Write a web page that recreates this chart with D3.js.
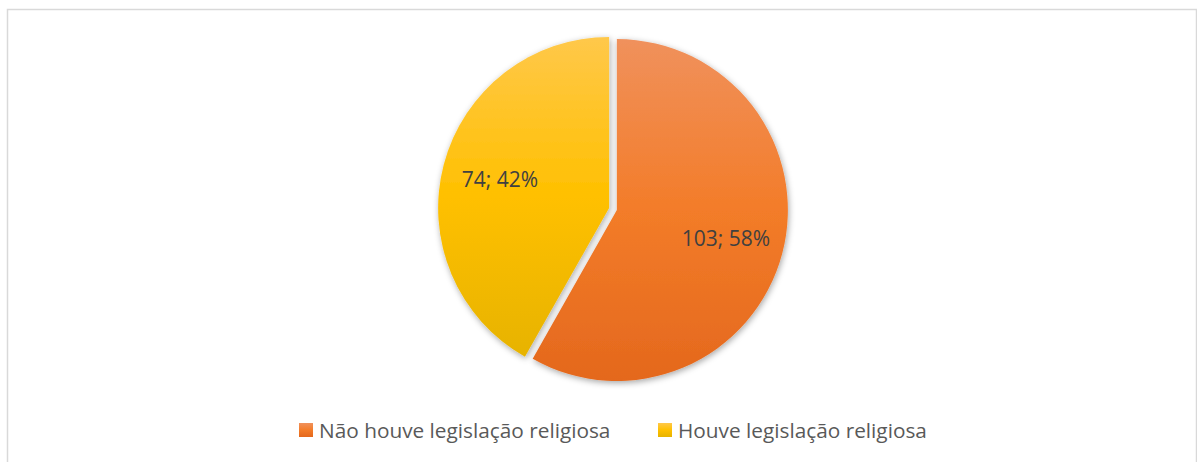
<!DOCTYPE html>
<html lang="pt">
<head>
<meta charset="UTF-8">
<title>Legislação religiosa</title>
<script src="https://d3js.org/d3.v7.min.js"></script>
<style>
  body { margin: 0; background: #fff; }
  svg { display: block; font-family: "Open Sans", sans-serif; }
</style>
</head>
<body>
<div id="chart"></div>
<script>
  const categories = ["Não houve legislação religiosa", "Houve legislação religiosa"];
  const values = [103, 74];
  const percents = ["58%", "42%"];

  const width = 1197, height = 462;
  const cx = 613, cy = 209, radius = 171, explode = 4;

  const svg = d3.select("#chart").append("svg")
      .attr("width", width)
      .attr("height", height);

  const defs = svg.append("defs");

  // gradients lighter on top, darker at bottom
  const grads = [
    ["#F0915C", "#F37C29", "#E4681D"],
    ["#FFC84A", "#FFC000", "#E7B300"]
  ];
  grads.forEach((g, i) => {
    const lg = defs.append("linearGradient")
        .attr("id", "grad" + i)
        .attr("x1", 0).attr("y1", 0).attr("x2", 0).attr("y2", 1);
    lg.append("stop").attr("offset", "0%").attr("stop-color", g[0]);
    lg.append("stop").attr("offset", "50%").attr("stop-color", g[1]);
    lg.append("stop").attr("offset", "100%").attr("stop-color", g[2]);
  });

  const shadow = defs.append("filter").attr("id", "shadow")
      .attr("x", "-20%").attr("y", "-20%").attr("width", "140%").attr("height", "140%");
  shadow.append("feDropShadow")
      .attr("dx", 1).attr("dy", 2).attr("stdDeviation", 3)
      .attr("flood-color", "#000").attr("flood-opacity", 0.35);

  // chart frame
  svg.append("rect")
      .attr("x", 7.5).attr("y", 9.5)
      .attr("width", 1189).attr("height", 470)
      .attr("fill", "none")
      .attr("stroke", "#D9D9D9")
      .attr("stroke-width", 1.5);

  const pie = d3.pie().sort(null).value(d => d);
  const arcs = pie(values);
  const arc = d3.arc().innerRadius(0).outerRadius(radius);
  const labelArc = d3.arc().innerRadius(radius * 0.66).outerRadius(radius * 0.66);

  const g = svg.append("g").attr("transform", `translate(${cx},${cy})`);

  const slices = g.selectAll("g.slice").data(arcs).join("g")
      .attr("class", "slice")
      .attr("transform", d => {
        const a = (d.startAngle + d.endAngle) / 2;
        return `translate(${explode * Math.sin(a)},${-explode * Math.cos(a)})`;
      });

  slices.append("path")
      .attr("d", arc)
      .attr("fill", (d, i) => `url(#grad${i})`)
      .attr("filter", "url(#shadow)");

  slices.append("text")
      .attr("transform", d => `translate(${labelArc.centroid(d)})`)
      .attr("text-anchor", "middle")
      .attr("dy", "0.35em")
      .attr("font-size", 21)
      .attr("fill", "#404040")
      .text((d, i) => `${values[i]}; ${percents[i]}`);

  // legend
  const legendX = [299, 658];
  const legend = svg.append("g");
  categories.forEach((c, i) => {
    legend.append("rect")
        .attr("x", legendX[i]).attr("y", 423)
        .attr("width", 14).attr("height", 14)
        .attr("fill", `url(#grad${i})`);
    legend.append("text")
        .attr("x", legendX[i] + 20).attr("y", 437.5)
        .attr("font-size", 20.8)
        .attr("fill", "#595959")
        .text(c);
  });
</script>
</body>
</html>
